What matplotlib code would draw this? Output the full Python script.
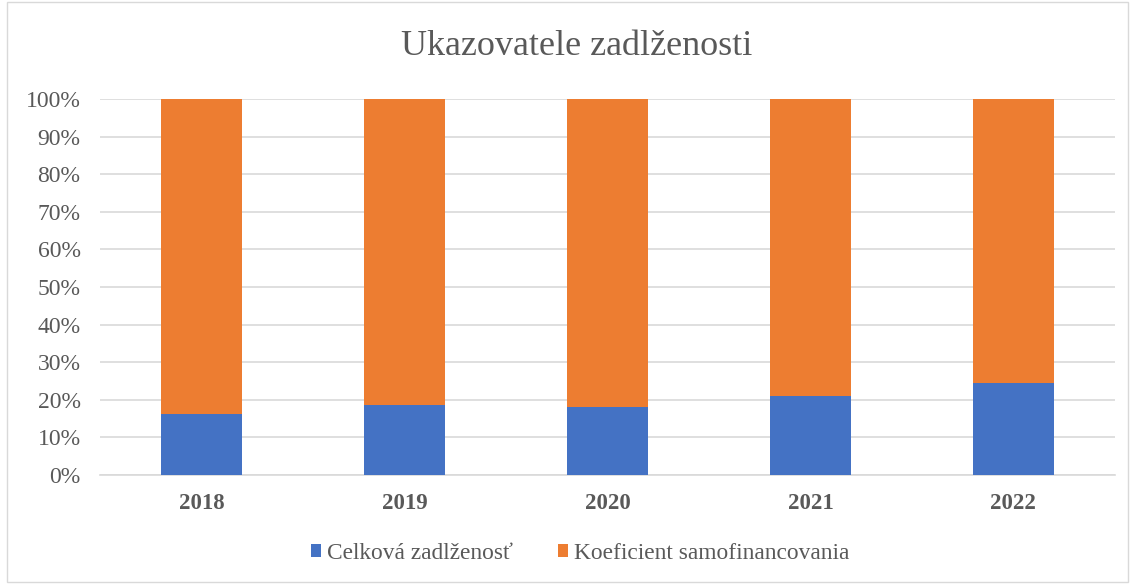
import matplotlib.pyplot as plt
from matplotlib.patches import Rectangle

years = ['2018', '2019', '2020', '2021', '2022']
celkova = [16.3, 18.7, 18.2, 20.9, 24.6]
koef = [100 - v for v in celkova]

plt.rcParams['font.family'] = ['Liberation Serif', 'DejaVu Serif']
txt = '#595959'

fig = plt.figure(figsize=(11.33, 5.84), dpi=100)
ax = fig.add_axes([0.0883, 0.1866, 0.8957, 0.6439])

x = range(len(years))
ax.bar(x, celkova, width=0.4, color='#4472C4', label='Celková zadlženosť', zorder=3)
ax.bar(x, koef, width=0.4, bottom=celkova, color='#ED7D31',
       label='Koeficient samofinancovania', zorder=3)

ax.set_xlim(-0.5, len(years) - 0.5)
ax.set_ylim(0, 100)
ax.set_yticks(range(0, 101, 10))
ax.set_yticklabels([f'{v}%' for v in range(0, 101, 10)], fontsize=17, color=txt)
ax.set_xticks(list(x))
ax.set_xticklabels(years, fontsize=16.5, fontweight='bold', color=txt)
ax.yaxis.grid(True, color='#d9d9d9', linewidth=1.2, zorder=0)
ax.tick_params(axis='y', length=0, pad=14)
ax.tick_params(axis='x', length=0, pad=13)
for s in ['top', 'right', 'left']:
    ax.spines[s].set_visible(False)
ax.spines['bottom'].set_color('#d9d9d9')
ax.spines['bottom'].set_linewidth(1.2)

fig.text(0.509, 0.92, 'Ukazovatele zadlženosti', ha='center', va='center',
         fontsize=26, color=txt)
fig.legend(loc='center', bbox_to_anchor=(0.512, 0.053), ncol=2, frameon=False,
           fontsize=16.8, handlelength=0.45, handleheight=0.45, handletextpad=0.25,
           columnspacing=1.9, labelcolor=txt)

fig.patches.append(Rectangle((0.006, 0.003), 0.99, 0.994, transform=fig.transFigure,
                             fill=False, edgecolor='#d9d9d9', linewidth=1))

fig.savefig('out.png', dpi=100)
